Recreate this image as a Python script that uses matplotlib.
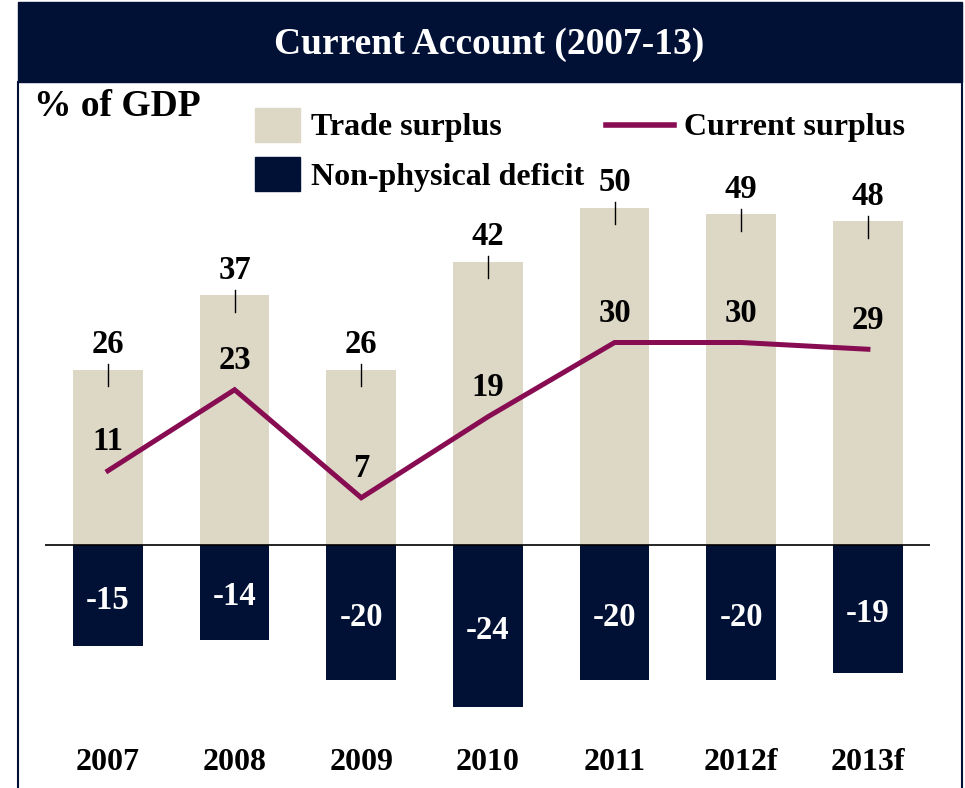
import numpy as np
import matplotlib.pyplot as plt
from matplotlib.patches import Rectangle
from matplotlib.lines import Line2D

plt.rcParams['font.family'] = ['Liberation Serif', 'DejaVu Serif']
plt.rcParams['font.weight'] = 'bold'

# data, % of GDP
years = ['2007', '2008', '2009', '2010', '2011', '2012f', '2013f']
trade_surplus = [26, 37, 26, 42, 50, 49, 48]
non_physical_deficit = [-15, -14, -20, -24, -20, -20, -19]
current_surplus = [11, 23, 7, 19, 30, 30, 29]

navy = '#011136'
beige = '#ddd8c6'
maroon = '#870c52'

W, H = 965, 788
fig = plt.figure(figsize=(W / 100, H / 100), dpi=100)


def fx(x):
    return x / W


def fy(y):
    return 1 - y / H


# title bar and frame
fig.add_artist(Rectangle((fx(18), fy(82)), fx(944), 80 / H, transform=fig.transFigure,
                         color=navy, zorder=0))
fig.text(fx(489), fy(44), 'Current Account (2007-13)', color='white', fontsize=27,
         ha='center', va='center')
for xx in (18, 962):
    fig.add_artist(Line2D([fx(xx), fx(xx)], [fy(82), 0], transform=fig.transFigure,
                          color=navy, lw=1.5))

fig.text(fx(34), fy(106), '% of GDP', fontsize=27, ha='left', va='center')

# legend
fig.add_artist(Rectangle((fx(255), fy(142)), 45 / W, 34 / H, transform=fig.transFigure,
                         color=beige))
fig.add_artist(Rectangle((fx(255), fy(191)), 45 / W, 34 / H, transform=fig.transFigure,
                         color=navy))
fig.add_artist(Line2D([fx(606), fx(674)], [fy(125), fy(125)], transform=fig.transFigure,
                      color=maroon, lw=4))
fig.text(fx(311), fy(128), 'Trade surplus', fontsize=23, ha='left', va='center')
fig.text(fx(311), fy(177), 'Non-physical deficit', fontsize=23, ha='left', va='center')
fig.text(fx(684), fy(128), 'Current surplus', fontsize=23, ha='left', va='center')

# plotting area: zero line at y=545 px, ~6.75 px per unit
scale = 6.75
ax = fig.add_axes([fx(45), fy(730), fx(930 - 45), (730 - 90) / H])
ax.set_xlim(-0.497, 6.49)
ax.set_ylim(-(730 - 545) / scale, (545 - 90) / scale)
ax.axis('off')

x = np.arange(len(years))
ax.bar(x, trade_surplus, width=0.55, color=beige, zorder=1)
ax.bar(x, non_physical_deficit, width=0.55, color=navy, zorder=1)
ax.axhline(0, color='black', lw=1.2, zorder=2)
ax.plot(x, current_surplus, color=maroon, lw=3.6, zorder=3, solid_joinstyle='miter')

for i in x:
    ts = trade_surplus[i]
    ax.plot([i, i], [ts + 0.8, ts - 2.5], color='black', lw=1, zorder=2)
    ax.text(i, ts + 3.7, str(ts), fontsize=23.5, ha='center', va='center')
    cs = current_surplus[i]
    ax.text(i, cs + 4.3, str(cs), fontsize=23.5, ha='center', va='center', zorder=4)
    nd = non_physical_deficit[i]
    ax.text(i, nd / 2 - 0.7, str(nd), fontsize=23.5, ha='center', va='center',
            color='white')
    ax.text(i, -32.2, years[i], fontsize=23, ha='center', va='center',
            clip_on=False)

fig.savefig('out.png', dpi=100)
